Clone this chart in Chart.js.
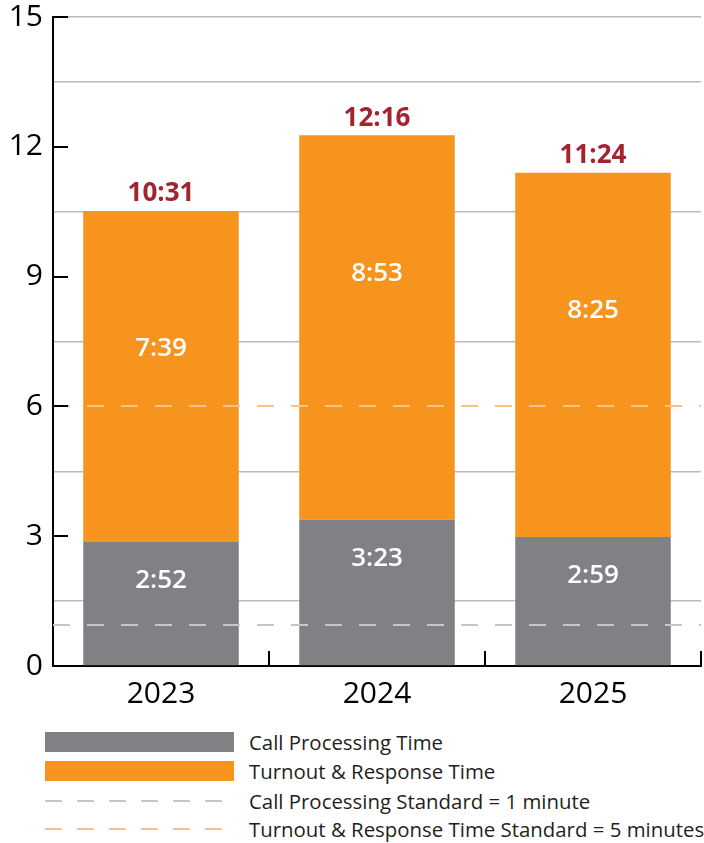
<!DOCTYPE html>
<html>
<head>
<meta charset="utf-8">
<script src="https://cdn.jsdelivr.net/npm/chart.js@4/dist/chart.umd.min.js"></script>
<style>
  body { margin: 0; background: #fff; }
  #wrap { position: relative; width: 704px; height: 843px; font-family: "Open Sans", sans-serif; }
  #chart { position: absolute; left: 0; top: 0; }
  .key { position: absolute; left: 45px; width: 189px; }
  .swatch { height: 20px; }
  .dash { height: 2px; }
  .txt { position: absolute; left: 249px; font-size: 20.4px; color: #231f20; line-height: 24px; white-space: nowrap; }
</style>
</head>
<body>
<div id="wrap">
  <canvas id="chart" width="704" height="720"></canvas>
  <div class="key swatch" style="top:732px;background:#808184"></div>
  <div class="txt" style="top:730px">Call Processing Time</div>
  <div class="key swatch" style="top:761px;background:#f7941d"></div>
  <div class="txt" style="top:759px">Turnout &amp; Response Time</div>
  <div class="key dash" style="top:800px;background:repeating-linear-gradient(to right,#c6c6c6 0 17px,transparent 17px 32px)"></div>
  <div class="txt" style="top:789px">Call Processing Standard = 1 minute</div>
  <div class="key dash" style="top:828px;background:repeating-linear-gradient(to right,#fbc284 0 17px,transparent 17px 32px)"></div>
  <div class="txt" style="top:817px">Turnout &amp; Response Time Standard = 5 minutes</div>
</div>
<script>
// data (minutes)
const years = ['2023', '2024', '2025'];
const callProcessing = [2.867, 3.383, 2.983];   // 2:52, 3:23, 2:59
const turnoutResponse = [7.65, 8.883, 8.417];   // 7:39, 8:53, 8:25
const callLabels = ['2:52', '3:23', '2:59'];
const turnoutLabels = ['7:39', '8:53', '8:25'];
const totalLabels = ['10:31', '12:16', '11:24'];
const standardValues = [0.95, 6];
const standardColors = ['#c6c6c6', '#fbc284'];

const FONT = '"Open Sans", sans-serif';

// dashed standards, inner tick marks and value labels
const extras = {
  id: 'extras',
  afterDatasetsDraw(chart) {
    const { ctx, chartArea: a, scales: { x, y } } = chart;
    const line = (x1, y1, x2, y2) => {
      ctx.beginPath(); ctx.moveTo(x1, y1); ctx.lineTo(x2, y2); ctx.stroke();
    };
    ctx.save();
    ctx.lineWidth = 2;
    ctx.setLineDash([17, 17]);
    standardValues.forEach((v, i) => {
      ctx.strokeStyle = standardColors[i];
      const py = Math.round(y.getPixelForValue(v));
      line(a.left, py, a.right, py);
    });
    ctx.setLineDash([]);

    ctx.strokeStyle = '#000';
    y.ticks.forEach(t => {
      if (t.value % 3 === 0) {
        const py = Math.round(y.getPixelForValue(t.value));
        line(a.left, py, a.left + 15, py);
      }
    });
    const half = (x.getPixelForValue(1) - x.getPixelForValue(0)) / 2;
    years.forEach((yr, i) => {
      const px = Math.round(x.getPixelForValue(i) + half);
      line(px, a.bottom, px, a.bottom - 15);
    });

    const gray = chart.getDatasetMeta(0).data;
    const orange = chart.getDatasetMeta(1).data;
    ctx.textAlign = 'center';
    ctx.textBaseline = 'alphabetic';
    const put = (txt, cx, cy, size) => ctx.fillText(txt, cx, cy + size * 0.36);
    gray.forEach((bar, i) => {
      ctx.fillStyle = '#fff';
      ctx.font = '600 26px ' + FONT;
      put(callLabels[i], bar.x, bar.y + 37, 26);
      const ob = orange[i];
      put(turnoutLabels[i], ob.x, ob.y + 136, 26);
      ctx.fillStyle = '#a3232f';
      ctx.font = '700 26px ' + FONT;
      put(totalLabels[i], ob.x, ob.y - 19, 26);
    });
    ctx.restore();
  }
};

new Chart(document.getElementById('chart'), {
  type: 'bar',
  data: {
    labels: years,
    datasets: [
      { label: 'Call Processing Time', data: callProcessing, backgroundColor: '#808184' },
      { label: 'Turnout & Response Time', data: turnoutResponse, backgroundColor: '#f7941d' }
    ]
  },
  options: {
    responsive: false,
    animation: false,
    layout: { padding: { top: 0, right: 3, bottom: 6, left: 0 } },
    datasets: { bar: { barPercentage: 0.72, categoryPercentage: 1 } },
    plugins: { legend: { display: false }, tooltip: { enabled: false } },
    scales: {
      x: {
        stacked: true,
        grid: { display: false },
        border: { display: true, color: '#000', width: 2 },
        ticks: { color: '#000', font: { family: FONT, size: 30 }, padding: 2 }
      },
      y: {
        stacked: true,
        min: 0,
        max: 15,
        afterFit(scale) { scale.width = 53; },
        border: { display: true, color: '#000', width: 2 },
        grid: {
          drawTicks: false,
          lineWidth: 1.5,
          color: c => (c.tick.value % 3 !== 0 || c.tick.value === 15) ? '#bcbcbc' : 'rgba(0,0,0,0)'
        },
        ticks: {
          stepSize: 1.5,
          padding: 10,
          color: '#000',
          font: { family: FONT, size: 30, lineHeight: 0.47 },
          callback: v => (v % 3 === 0 ? v : '')
        }
      }
    }
  },
  plugins: [extras]
});
</script>
</body>
</html>
